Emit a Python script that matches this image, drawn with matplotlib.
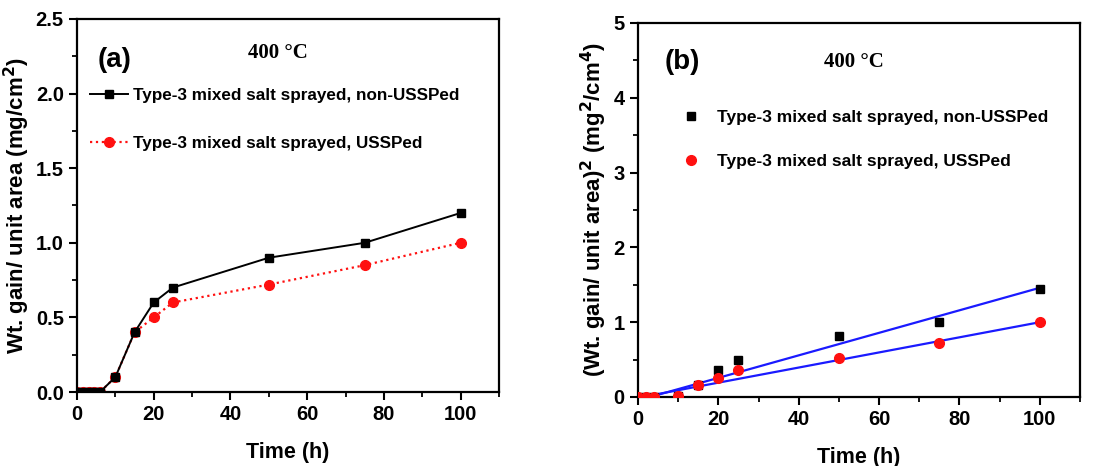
import matplotlib
matplotlib.use("Agg")
import matplotlib.pyplot as plt
from matplotlib.ticker import MultipleLocator, FormatStrFormatter

# ---- data ----
time_a = [0, 1.5, 3, 4.5, 6, 10, 15, 20, 25, 50, 75, 100]
wt_non = [0, 0, 0, 0, 0, 0.1, 0.4, 0.6, 0.7, 0.9, 1.0, 1.2]
wt_uss = [0, 0, 0, 0, 0, 0.1, 0.4, 0.5, 0.6, 0.72, 0.85, 1.0]

time_b = [0, 2, 4, 10, 15, 20, 25, 50, 75, 100]
sq_non = [0, 0, 0, 0.01, 0.16, 0.36, 0.49, 0.81, 1.0, 1.44]
sq_uss = [0, 0, 0, 0.01, 0.16, 0.25, 0.36, 0.52, 0.72, 1.0]

fit_x = [3, 100]
fit_non = [0.0, 1.46]
fit_uss = [0.02, 1.0]

label_non = "Type-3 mixed salt sprayed, non-USSPed"
label_uss = "Type-3 mixed salt sprayed, USSPed"

plt.rcParams['font.family'] = ['Liberation Sans', 'DejaVu Sans']
plt.rcParams['font.weight'] = 'bold'

fig = plt.figure(figsize=(11.12, 4.66), dpi=100)
W, H = 1112, 466
ax1 = fig.add_axes([77 / W, 1 - 392 / H, (499 - 77) / W, (392 - 19) / H])
ax2 = fig.add_axes([638 / W, 1 - 397 / H, (1080 - 638) / W, (397 - 23) / H])

for ax in (ax1, ax2):
    for s in ax.spines.values():
        s.set_linewidth(1.6)
    ax.set_xlim(0, 110)
    ax.xaxis.set_major_locator(MultipleLocator(20))
    ax.xaxis.set_minor_locator(MultipleLocator(10))
    ax.tick_params(which='major', direction='out', length=6, width=1.5, labelsize=14.5)
    ax.tick_params(which='minor', direction='out', length=3.5, width=1.3)
    ax.set_xlabel("Time (h)", fontsize=15.5, fontweight='bold', labelpad=13)

# ---- panel (a) ----
ax1.set_ylim(0, 2.5)
ax1.yaxis.set_major_locator(MultipleLocator(0.5))
ax1.yaxis.set_minor_locator(MultipleLocator(0.25))
ax1.yaxis.set_major_formatter(FormatStrFormatter('%.1f'))
ax1.plot(time_a, wt_uss, linestyle=':', color='#ff1010', lw=1.6, marker='o',
         ms=7, mfc='#ff1010', mec='#ff1010', label=label_uss, zorder=2)
ax1.plot(time_a, wt_non, linestyle='-', color='black', lw=1.4, marker='s',
         ms=6, mfc='black', mec='black', label=label_non, zorder=3)
h, l = ax1.get_legend_handles_labels()
ax1.legend(h[::-1], l[::-1], loc='upper left', bbox_to_anchor=(-0.005, 0.857),
           frameon=False, labelspacing=1.95, handlelength=2.2,
           handletextpad=0.3, prop={'weight': 'bold', 'size': 12.3})
ax1.text(0.05, 0.89, "(a)", transform=ax1.transAxes, fontsize=20,
         fontweight='bold', va='center', ha='left')
ax1.text(0.475, 0.91, "400 °C", transform=ax1.transAxes, fontsize=15,
         fontweight='bold', family='Liberation Serif', va='center', ha='center')
ax1.set_ylabel("Wt. gain/ unit area (mg/cm$^\\mathbf{2}$)", fontsize=16,
               fontweight='bold', labelpad=3)

# ---- panel (b) ----
ax2.set_ylim(0, 5)
ax2.yaxis.set_major_locator(MultipleLocator(1))
ax2.yaxis.set_minor_locator(MultipleLocator(0.5))
ax2.plot(fit_x, fit_non, color='#1a1aff', lw=1.6, zorder=2)
ax2.plot(fit_x, fit_uss, color='#1a1aff', lw=1.6, zorder=2)
ax2.plot(time_b, sq_non, linestyle='none', marker='s', ms=6, color='black',
         label=label_non, zorder=3)
ax2.plot(time_b, sq_uss, linestyle='none', marker='o', ms=7, color='#ff1010',
         label=label_uss, zorder=4)
ax2.legend(loc='upper left', bbox_to_anchor=(0.06, 0.81), frameon=False,
           labelspacing=1.65, handlelength=1.2, handletextpad=0.9,
           prop={'weight': 'bold', 'size': 12.5})
ax2.text(0.06, 0.895, "(b)", transform=ax2.transAxes, fontsize=20,
         fontweight='bold', va='center', ha='left')
ax2.text(0.488, 0.895, "400 °C", transform=ax2.transAxes, fontsize=15,
         fontweight='bold', family='Liberation Serif', va='center', ha='center')
ax2.set_ylabel("(Wt. gain/ unit area)$^\\mathbf{2}$ (mg$^\\mathbf{2}$/cm$^\\mathbf{4}$)",
               fontsize=16, fontweight='bold', labelpad=3)
for lab in ax1.get_xticklabels() + ax1.get_yticklabels() + ax2.get_xticklabels() + ax2.get_yticklabels():
    lab.set_fontweight('bold')

fig.savefig("out.png", dpi=100)
